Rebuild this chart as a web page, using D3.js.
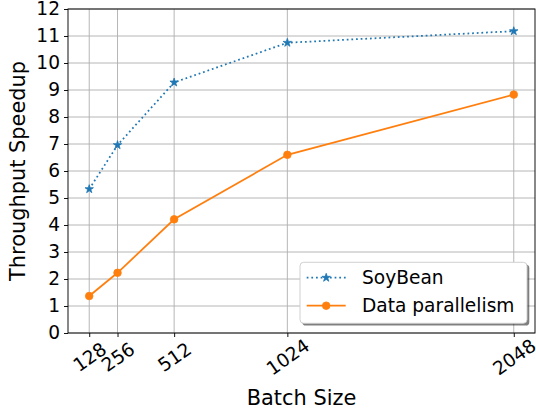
<html>
<head>
    <title>Throughput Speedup</title>
    <script src="https://d3js.org/d3.v7.min.js"></script>
    <style>
        body{
            margin: 0;
            background: #fff;
        }
        text{
            font-family: "DejaVu Sans", sans-serif;
            fill: #000;
        }
    </style>
</head>
<body>
<div id="chart"></div>

<script>

    var batchSizes = [128, 256, 512, 1024, 2048];
    var soyBean = [5.33, 6.96, 9.28, 10.75, 11.18];
    var dataParallelism = [1.37, 2.23, 4.21, 6.60, 8.83];
    var yTicks = [0, 1, 2, 3, 4, 5, 6, 7, 8, 9, 10, 11, 12];
    var seriesNames = ["SoyBean", "Data parallelism"];

    var width = 536, height = 410;
    // note: "top" is reserved on window, so use plot* names
    var plotLeft = 68, plotRight = 535, plotTop = 9, plotBottom = 333;

    var svg = d3.select("#chart").append("svg")
        .attr("width", width)
        .attr("height", height);

    // matplotlib-like 5% margins on x
    var x = d3.scaleLinear().domain([32, 2144]).range([plotLeft, plotRight]);
    var y = d3.scaleLinear().domain([0, 12]).range([plotBottom, plotTop]);

    // grid
    var grid = svg.append("g");
    grid.selectAll(".gx").data(batchSizes).enter().append("line")
        .attr("x1", function(d){ return x(d); })
        .attr("x2", function(d){ return x(d); })
        .attr("y1", plotTop).attr("y2", plotBottom)
        .attr("stroke", "#b0b0b0").attr("stroke-width", 0.93);
    grid.selectAll(".gy").data(yTicks).enter().append("line")
        .attr("x1", plotLeft).attr("x2", plotRight)
        .attr("y1", function(d){ return y(d); })
        .attr("y2", function(d){ return y(d); })
        .attr("stroke", "#b0b0b0").attr("stroke-width", 0.93);

    // y axis
    var yAxis = svg.append("g")
        .attr("transform", "translate(" + plotLeft + ",0)")
        .call(d3.axisLeft(y).tickValues(yTicks).tickSize(4).tickPadding(4).tickFormat(d3.format("d")));
    yAxis.select(".domain").remove();
    yAxis.selectAll("line").attr("stroke", "#000").attr("stroke-width", 0.93);
    yAxis.selectAll("text").style("font-size", "18.6px").attr("font-family", null);

    // x axis
    var xAxis = svg.append("g")
        .attr("transform", "translate(0," + plotBottom + ")")
        .call(d3.axisBottom(x).tickValues(batchSizes).tickSize(4).tickFormat(d3.format("d")));
    xAxis.select(".domain").remove();
    xAxis.selectAll("line").attr("stroke", "#000").attr("stroke-width", 0.93);
    xAxis.selectAll("text").remove();
    xAxis.selectAll(".tick").append("text")
        .attr("transform", "translate(0,24) rotate(-35)")
        .attr("text-anchor", "middle")
        .attr("dy", "0.35em")
        .style("font-size", "18.6px")
        .text(function(d){ return d; });

    // series
    var line = d3.line()
        .x(function(d, i){ return x(batchSizes[i]); })
        .y(function(d){ return y(d); });

    svg.append("path").datum(soyBean)
        .attr("d", line)
        .attr("fill", "none")
        .attr("stroke", "#1f77b4")
        .attr("stroke-width", 1.75)
        .attr("stroke-dasharray", "1.75,2.9");

    svg.append("path").datum(dataParallelism)
        .attr("d", line)
        .attr("fill", "none")
        .attr("stroke", "#ff7f0e")
        .attr("stroke-width", 1.75);

    var star = d3.symbol().type(d3.symbolStar).size(22);
    svg.selectAll(".star").data(soyBean).enter().append("path")
        .attr("d", star)
        .attr("transform", function(d, i){ return "translate(" + x(batchSizes[i]) + "," + y(d) + ")"; })
        .attr("fill", "#1f77b4").attr("stroke", "#1f77b4").attr("stroke-width", 0.8);

    svg.selectAll(".dot").data(dataParallelism).enter().append("circle")
        .attr("cx", function(d, i){ return x(batchSizes[i]); })
        .attr("cy", function(d){ return y(d); })
        .attr("r", 3.8)
        .attr("fill", "#ff7f0e").attr("stroke", "#ff7f0e").attr("stroke-width", 0.8);

    // spines
    svg.append("rect")
        .attr("x", plotLeft).attr("y", plotTop)
        .attr("width", plotRight - plotLeft).attr("height", plotBottom - plotTop)
        .attr("fill", "none").attr("stroke", "#000").attr("stroke-width", 0.93);

    // axis labels
    svg.append("text")
        .attr("x", (plotLeft + plotRight) / 2).attr("y", 405)
        .attr("text-anchor", "middle")
        .style("font-size", "20.9px")
        .text("Batch Size");
    svg.append("text")
        .attr("transform", "translate(24.5," + ((plotTop + plotBottom) / 2) + ") rotate(-90)")
        .attr("text-anchor", "middle")
        .style("font-size", "20.9px")
        .text("Throughput Speedup");

    // legend with shadow
    var lg = svg.append("g");
    lg.append("rect")
        .attr("x", 302.3).attr("y", 264.6).attr("width", 227).attr("height", 61).attr("rx", 3.7)
        .attr("fill", "#000").attr("fill-opacity", 0.5);
    lg.append("rect")
        .attr("x", 300).attr("y", 262.3).attr("width", 227).attr("height", 61).attr("rx", 3.7)
        .attr("fill", "#fff").attr("stroke", "#cccccc").attr("stroke-width", 0.93);

    var rows = [277.7, 305.7];
    lg.append("line")
        .attr("x1", 306.7).attr("x2", 345.7).attr("y1", rows[0]).attr("y2", rows[0])
        .attr("stroke", "#1f77b4").attr("stroke-width", 1.75).attr("stroke-dasharray", "1.75,2.9");
    lg.append("path").attr("d", star)
        .attr("transform", "translate(326.2," + rows[0] + ")")
        .attr("fill", "#1f77b4").attr("stroke", "#1f77b4").attr("stroke-width", 0.8);
    lg.append("line")
        .attr("x1", 306.7).attr("x2", 345.7).attr("y1", rows[1]).attr("y2", rows[1])
        .attr("stroke", "#ff7f0e").attr("stroke-width", 1.75);
    lg.append("circle").attr("cx", 326.2).attr("cy", rows[1]).attr("r", 3.8)
        .attr("fill", "#ff7f0e").attr("stroke", "#ff7f0e").attr("stroke-width", 0.8);

    lg.selectAll(".lt").data(seriesNames).enter().append("text")
        .attr("x", 362)
        .attr("y", function(d, i){ return rows[i]; })
        .attr("dy", "0.35em")
        .style("font-size", "18.6px")
        .text(function(d){ return d; });

</script>
</body>
</html>
